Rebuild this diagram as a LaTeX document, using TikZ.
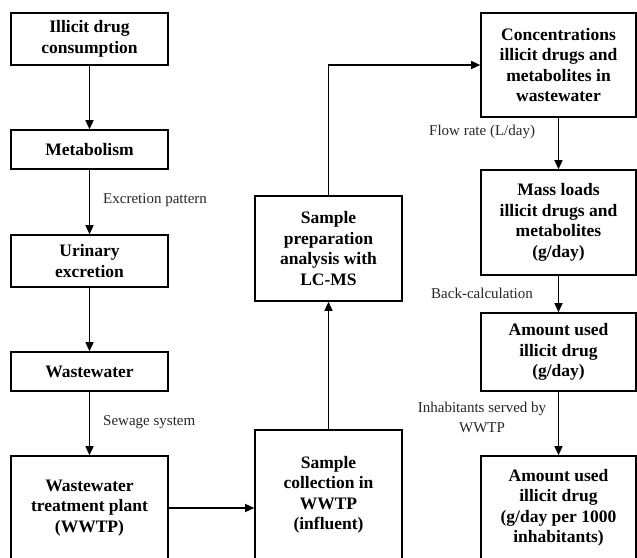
\documentclass[tikz,border=0pt]{standalone}
\usepackage{fontspec}
\setmainfont{Liberation Serif}
\usetikzlibrary{arrows.meta}
\tikzset{
  box/.style={draw, line width=1.6pt, rectangle, align=center, inner sep=2pt,
    font=\fontsize{17.5}{20.5}\selectfont\bfseries},
  conn/.style={line width=1.4pt, -{Triangle[length=9pt,width=8pt]}},
  lbl/.style={font=\fontsize{15}{17}\selectfont, text=black!85, inner sep=0pt}
}
\begin{document}
\begin{tikzpicture}[x=1pt,y=-1pt]
\useasboundingbox (0,0) rectangle (637,557);
% left column
\node[box, minimum width=157, minimum height=52] (drug) at (89.5,39) {Illicit drug\\consumption};
\node[box, minimum width=157, minimum height=39] (metab) at (89.5,149.5) {Metabolism};
\node[box, minimum width=157, minimum height=52] (urin) at (89.5,261) {Urinary\\excretion};
\node[box, minimum width=157, minimum height=39] (ww) at (89.5,371.5) {Wastewater};
\node[box, minimum width=157, minimum height=104] (wwtp) at (89.5,508) {Wastewater\\treatment plant\\(WWTP)};
% middle column
\node[box, minimum width=147, minimum height=105] (prep) at (328.5,248.5) {Sample\\preparation\\analysis with\\LC-MS};
\node[box, minimum width=147, minimum height=130] (coll) at (328.5,495) {Sample\\collection in\\WWTP\\(influent)};
% right column
\node[box, minimum width=155, minimum height=104] (conc) at (558.5,65) {Concentrations\\illicit drugs and\\metabolites in\\wastewater};
\node[box, minimum width=155, minimum height=105] (mass) at (558.5,222.5) {Mass loads\\illicit drugs and\\metabolites\\(g/day)};
\node[box, minimum width=155, minimum height=78] (amt) at (558.5,352) {Amount used\\illicit drug\\(g/day)};
\node[box, minimum width=155, minimum height=104] (amtp) at (558.5,508) {Amount used\\illicit drug\\(g/day per 1000\\inhabitants)};
% connectors
\draw[conn] (drug) -- (metab);
\draw[conn] (metab) -- (urin);
\draw[conn] (urin) -- (ww);
\draw[conn] (ww) -- (wwtp);
\draw[conn] (wwtp.east) -- (wwtp.east -| coll.west);
\draw[conn] (coll) -- (prep);
\draw[conn] (prep.north) |- (conc.west);
\draw[conn] (conc) -- (mass);
\draw[conn] (mass) -- (amt);
\draw[conn] (amt) -- (amtp);
% labels
\node[lbl, anchor=west] (l1) at (103,200) {Excretion pattern};
\node[lbl, anchor=west] (l2) at (103,422) {Sewage system};
\node[lbl, anchor=west] (l3) at (429,132) {Flow rate (L/day)};
\node[lbl, anchor=west] (l4) at (431,293) {Back-calculation};
\node[lbl, align=center, font=\fontsize{15}{20}\selectfont] (l5) at (482,417) {Inhabitants served by\\WWTP};
\end{tikzpicture}
\end{document}
